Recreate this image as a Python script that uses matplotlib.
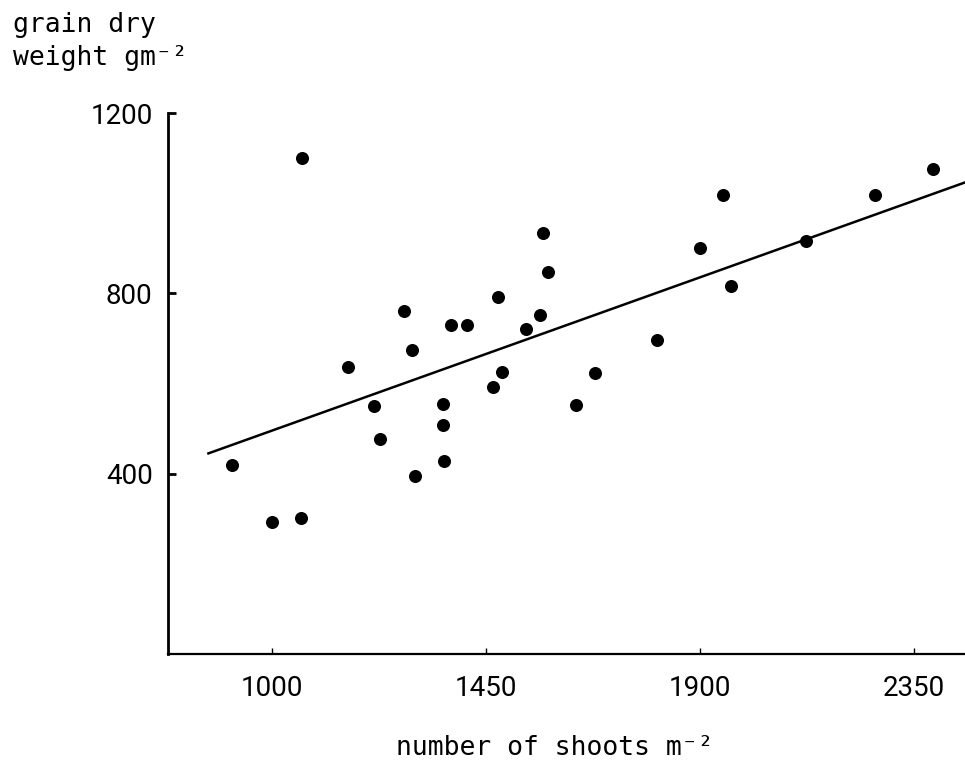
import matplotlib
matplotlib.use("Agg")
import matplotlib.pyplot as plt

# shoots per m2 vs grain dry weight
shoots = [916, 1000, 1060, 1062, 1160, 1214, 1227, 1277, 1294, 1300,
          1360, 1360, 1362, 1376, 1409, 1464, 1474, 1484, 1533, 1564,
          1569, 1581, 1638, 1679, 1809, 1900, 1949, 1964, 2122, 2268, 2390]
grain = [420, 293, 302, 1101, 637, 550, 478, 761, 674, 395,
         555, 508, 427, 729, 729, 593, 791, 625, 720, 752,
         933, 848, 552, 623, 697, 900, 1018, 817, 915, 1018, 1075]

# fitted line, end points
line_x = [866, 2457]
line_y = [445, 1046]

x_ticks = [1000, 1450, 1900, 2350]
y_ticks = [400, 800, 1200]

mono = ["DejaVu Sans Mono"]
narrow = ["Roboto", "DejaVu Sans"]

fig = plt.figure(figsize=(9.65, 7.71), dpi=100)
ax = fig.add_axes([168 / 965, 1 - 654 / 771, 1 - 168 / 965, (654 - 113) / 771])

ax.scatter(shoots, grain, s=70, color="black", zorder=3)
ax.plot(line_x, line_y, color="black", linewidth=1.8)

ax.set_xlim(781, 2457)
ax.set_ylim(0, 1200)

ax.spines["top"].set_visible(False)
ax.spines["right"].set_visible(False)
ax.spines["left"].set_linewidth(2.0)
ax.spines["bottom"].set_linewidth(1.6)

ax.set_xticks(x_ticks)
ax.set_yticks(y_ticks)
ax.tick_params(axis="x", direction="in", length=4, width=1, pad=15)
ax.tick_params(axis="y", direction="in", length=6, width=2, pad=11)
for lab in ax.get_xticklabels() + ax.get_yticklabels():
    lab.set_family(narrow)
    lab.set_fontsize(20)

# axis titles, typewriter style
fig.text(13 / 965, 1 - 32 / 771, "grain dry", family=mono, fontsize=19, va="baseline")
fig.text(13 / 965, 1 - 65 / 771, "weight gm⁻²", family=mono, fontsize=19, va="baseline")
fig.text(555 / 965, 1 - 755 / 771, "number of shoots m⁻²", family=mono, fontsize=19,
         ha="center", va="baseline")

fig.savefig("out.png", dpi=100)
